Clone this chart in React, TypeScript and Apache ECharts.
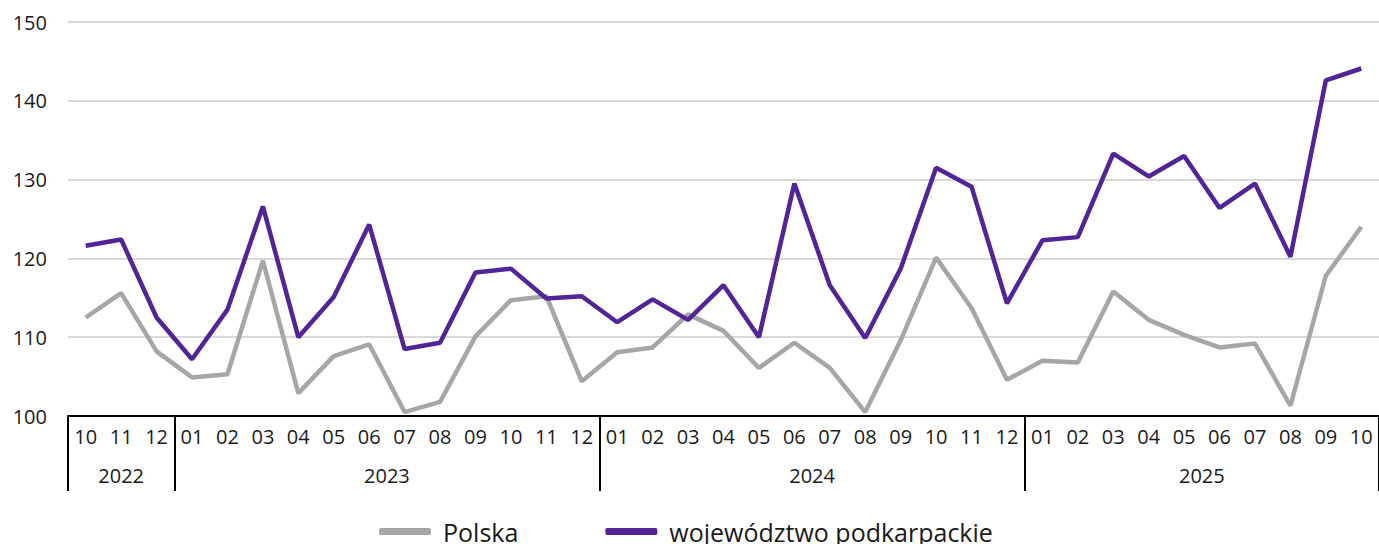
import React, { useEffect, useRef } from "react";
import * as echarts from "echarts";

const months = [
  "10", "11", "12",
  "01", "02", "03", "04", "05", "06", "07", "08", "09", "10", "11", "12",
  "01", "02", "03", "04", "05", "06", "07", "08", "09", "10", "11", "12",
  "01", "02", "03", "04", "05", "06", "07", "08", "09", "10",
];
const years = ["2022", "2023", "2024", "2025"];
const yearMonthCounts = [3, 12, 12, 10];

const polska = [
  112.5, 115.6, 108.2,
  104.9, 105.3, 119.7, 102.9, 107.6, 109.1, 100.5, 101.8, 110.1, 114.7, 115.2, 104.4,
  108.1, 108.7, 112.9, 110.8, 106.1, 109.3, 106.1, 100.5, 109.6, 120.1, 113.7, 104.6,
  107.0, 106.8, 115.8, 112.2, 110.3, 108.7, 109.2, 101.3, 117.8, 124.0,
];
const podkarpackie = [
  121.6, 122.4, 112.5,
  107.2, 113.5, 126.6, 110.0, 115.1, 124.3, 108.5, 109.3, 118.2, 118.7, 114.9, 115.2,
  111.9, 114.8, 112.2, 116.6, 110.0, 129.5, 116.6, 109.9, 118.7, 131.5, 129.1, 114.3,
  122.3, 122.7, 133.3, 130.4, 133.0, 126.4, 129.5, 120.2, 142.6, 144.1,
];
const yTicks = [100, 110, 120, 130, 140, 150];

const FONT = "'Open Sans', 'Noto Sans', sans-serif";

export default function App() {
  const ref = useRef<HTMLDivElement>(null);
  useEffect(() => {
    if (!ref.current) return;
    const chart = echarts.init(ref.current, null, { renderer: "svg" });

    const boundaries: number[] = [0];
    const centers: number[] = [];
    yearMonthCounts.forEach((c) => {
      const start = boundaries[boundaries.length - 1];
      centers.push(start + c / 2);
      boundaries.push(start + c);
    });

    chart.setOption({
      animation: false,
      textStyle: { fontFamily: FONT },
      grid: { left: 68, top: 22, width: 1315, height: 394, containLabel: false },
      legend: {
        top: 514,
        left: 374,
        itemWidth: 52,
        itemHeight: 7,
        itemGap: 87,
        icon: "roundRect",
        textStyle: { fontFamily: FONT, fontSize: 25, color: "#1a1a1a", padding: [0, 0, 0, 7] },
        data: ["Polska", "województwo podkarpackie"],
      },
      xAxis: [
        {
          type: "category",
          data: months,
          boundaryGap: true,
          axisLine: { show: true, lineStyle: { color: "#000", width: 2 } },
          axisTick: { show: false },
          axisLabel: { fontFamily: FONT, fontSize: 20, color: "#1a1a1a", margin: 10, interval: 0 },
          splitLine: { show: false },
        },
        {
          type: "value",
          min: 0,
          max: months.length,
          position: "bottom",
          axisLine: { show: false },
          splitLine: { show: false },
          axisTick: {
            show: true,
            customValues: boundaries,
            length: 75,
            lineStyle: { color: "#000", width: 2 },
          },
          axisLabel: {
            show: true,
            customValues: centers,
            formatter: (v: number) => {
              const i = centers.findIndex((c) => Math.abs(c - v) < 1e-6);
              return i >= 0 ? years[i] : "";
            },
            fontFamily: FONT,
            fontSize: 20,
            color: "#1a1a1a",
            margin: 49,
            showMinLabel: true,
            showMaxLabel: true,
          },
        },
      ],
      yAxis: {
        type: "value",
        min: yTicks[0],
        max: yTicks[yTicks.length - 1],
        interval: 10,
        axisLine: { show: false },
        axisTick: { show: false },
        axisLabel: { fontFamily: FONT, fontSize: 20, color: "#1a1a1a", margin: 21 },
        splitLine: { show: true, lineStyle: { color: "#d9d9d9", width: 2 } },
      },
      series: [
        {
          name: "Polska",
          type: "line",
          data: polska,
          xAxisIndex: 0,
          symbol: "none",
          lineStyle: { color: "#a6a6a6", width: 4.5 },
          itemStyle: { color: "#a6a6a6" },
        },
        {
          name: "województwo podkarpackie",
          type: "line",
          data: podkarpackie,
          xAxisIndex: 0,
          symbol: "none",
          lineStyle: { color: "#512598", width: 4.5 },
          itemStyle: { color: "#512598" },
        },
      ],
    });
    return () => chart.dispose();
  }, []);

  return (
    <div
      ref={ref}
      style={{ position: "fixed", left: 0, top: 0, width: 1379, height: 544, background: "#fff" }}
    />
  );
}
